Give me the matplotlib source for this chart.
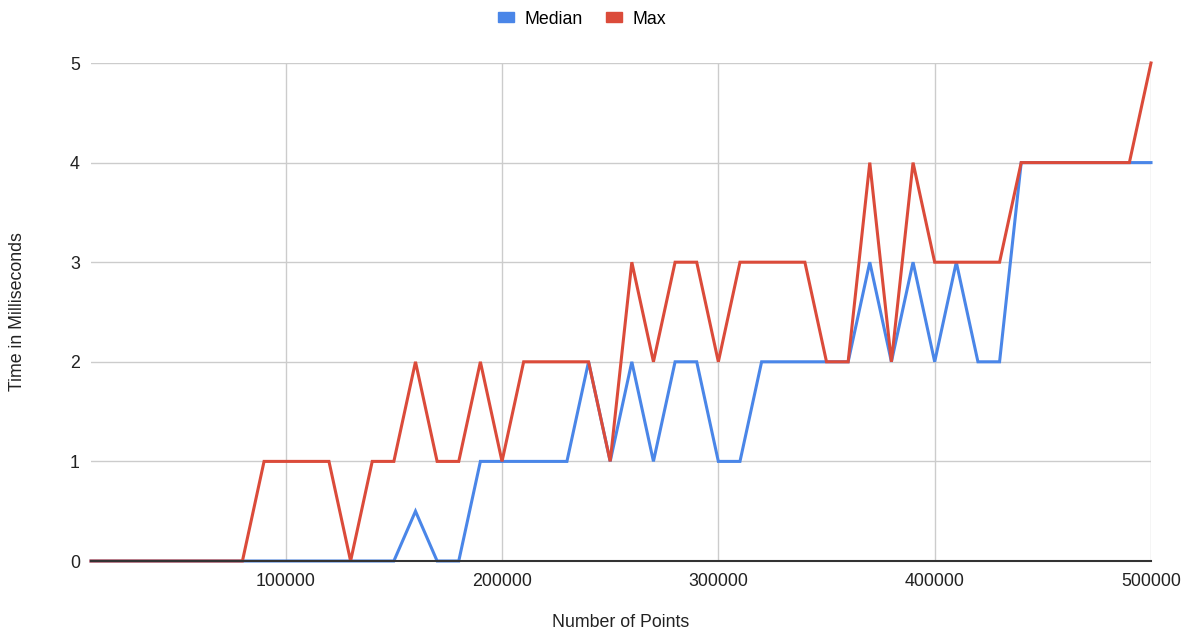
import matplotlib.pyplot as plt
from matplotlib.patches import Patch

plt.rcParams["font.family"] = ["Liberation Sans", "DejaVu Sans"]

points = list(range(10000, 500001, 10000))
median_ms = [0, 0, 0, 0, 0, 0, 0, 0, 0, 0,
             0, 0, 0, 0, 0, 0.5, 0, 0, 1, 1,
             1, 1, 1, 2, 1, 2, 1, 2, 2, 1,
             1, 2, 2, 2, 2, 2, 3, 2, 3, 2,
             3, 2, 2, 4, 4, 4, 4, 4, 4, 4]
max_ms = [0, 0, 0, 0, 0, 0, 0, 0, 1, 1,
          1, 1, 0, 1, 1, 2, 1, 1, 2, 1,
          2, 2, 2, 2, 1, 3, 2, 3, 3, 2,
          3, 3, 3, 3, 2, 2, 4, 2, 4, 3,
          3, 3, 3, 4, 4, 4, 4, 4, 4, 5]

blue = "#4a86e8"
red = "#db4b3a"
text_color = "#222222"
fs = 12.8

fig = plt.figure(figsize=(11.92, 6.37), dpi=100)
ax = fig.add_axes([91 / 1192, 76 / 637, 1060 / 1192, 498 / 637])

ax.plot(points, median_ms, color=blue, linewidth=2.2, solid_joinstyle="miter", clip_on=False)
ax.plot(points, max_ms, color=red, linewidth=2.2, solid_joinstyle="miter", clip_on=False)

ax.set_xlim(10000, 500000)
ax.set_ylim(0, 5)
ax.set_xticks([100000, 200000, 300000, 400000, 500000])
ax.set_yticks(range(6))
ax.grid(True, color="#cccccc", linewidth=1)
ax.set_axisbelow(True)
for side in ["top", "right", "left"]:
    ax.spines[side].set_visible(False)
ax.spines["bottom"].set_color("#333333")
ax.spines["bottom"].set_linewidth(1.5)
ax.tick_params(length=0, labelsize=fs, colors=text_color)
ax.tick_params(axis="x", pad=9)
ax.tick_params(axis="y", pad=8)

ax.set_xlabel("Number of Points", fontsize=fs, color=text_color)
ax.set_ylabel("Time in Milliseconds", fontsize=fs, color=text_color)
ax.xaxis.set_label_coords(0.5, -0.1225)
ax.yaxis.set_label_coords(-0.069, 0.5)
ax.xaxis.label.set_va("center")
ax.yaxis.label.set_va("center")

handles = [Patch(color=blue, label="Median"), Patch(color=red, label="Max")]
fig.legend(handles=handles, loc="center", bbox_to_anchor=(582 / 1192, 1 - 19 / 637),
           ncol=2, frameon=False, fontsize=fs, handlelength=0.9, handleheight=0.5,
           handletextpad=0.6, columnspacing=1.3)

fig.savefig("out.png", dpi=100)
